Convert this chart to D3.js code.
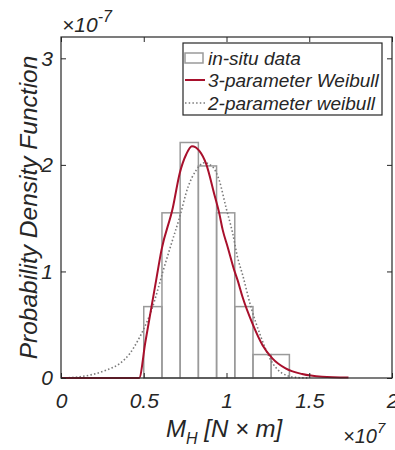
<!DOCTYPE html>
<html>
<head>
<meta charset="utf-8">
<script src="https://d3js.org/d3.v7.min.js"></script>
<style>
  body { margin: 0; background: #fff; }
  text { font-family: "Liberation Sans", Arial, sans-serif; font-style: italic; fill: #262626; }
</style>
</head>
<body>
<div id="chart"></div>
<script>
// histogram of the in-situ data (x in 1e7 N*m, density in 1e-7)
var binEdges = [0.5, 0.61, 0.72, 0.83, 0.94, 1.05, 1.16, 1.27, 1.38];
var binHeights = [0.67, 1.55, 2.21, 1.99, 1.55, 0.67, 0.22, 0.22];

// 3-parameter Weibull fit
var weib3X = [0, 0.472, 0.51, 0.547, 0.575, 0.607, 0.676, 0.717, 0.757, 0.791, 0.837, 0.877, 0.927, 0.957, 0.977, 1.007, 1.047, 1.067, 1.097, 1.157, 1.217, 1.277, 1.357, 1.457, 1.577, 1.737];
var weib3Y = [0, 0, 0.34, 0.67, 0.918, 1.2, 1.60, 1.92, 2.10, 2.175, 2.13, 2.01, 1.72, 1.54, 1.39, 1.23, 1.01, 0.918, 0.76, 0.51, 0.31, 0.184, 0.09, 0.037, 0.012, 0.004];

// 2-parameter weibull fit
var weib2X = [0, 0.116, 0.196, 0.276, 0.356, 0.416, 0.466, 0.506, 0.547, 0.587, 0.616, 0.667, 0.717, 0.767, 0.817, 0.867, 0.917, 0.957, 0.997, 1.037, 1.067, 1.097, 1.147, 1.207, 1.267, 1.337, 1.417, 1.5];
var weib2Y = [0, 0.012, 0.035, 0.075, 0.137, 0.23, 0.356, 0.48, 0.637, 0.84, 1.0, 1.26, 1.51, 1.79, 1.95, 2.02, 1.98, 1.85, 1.60, 1.36, 1.13, 0.97, 0.67, 0.39, 0.17, 0.044, 0.006, 0];

var xTicks = [0, 0.5, 1, 1.5, 2];
var yTicks = [0, 1, 2, 3];
var legendLabels = ["in-situ data", "3-parameter Weibull", "2-parameter weibull"];

var svgWidth = 395;
var svgHeight = 450;
var margin = { top: 37, right: 3, bottom: 72, left: 61 };
var width = svgWidth - margin.left - margin.right;
var height = svgHeight - margin.top - margin.bottom;

var red = "#a8102c";
var barGray = "#9a9a9a";
var axisColor = "#262626";

var svg = d3.select("#chart").append("svg")
  .attr("width", svgWidth)
  .attr("height", svgHeight);

var g = svg.append("g")
  .attr("transform", `translate(${margin.left}, ${margin.top})`);

var x = d3.scaleLinear().domain([0, 2]).range([0, width]);
var y = d3.scaleLinear().domain([0, 3.2]).range([height, 0]);

// histogram bars
g.selectAll("rect.bar")
  .data(binHeights)
  .enter()
  .append("rect")
  .attr("class", "bar")
  .attr("x", (d, i) => x(binEdges[i]))
  .attr("y", d => y(d))
  .attr("width", (d, i) => x(binEdges[i + 1]) - x(binEdges[i]))
  .attr("height", d => y(0) - y(d))
  .attr("fill", "none")
  .attr("stroke", barGray)
  .attr("stroke-width", 1.5);

var line = d3.line()
  .x(d => x(d[0]))
  .y(d => y(d[1]))
  .curve(d3.curveMonotoneX);

// dotted 2-parameter curve
g.append("path")
  .datum(d3.zip(weib2X, weib2Y))
  .attr("d", line)
  .attr("fill", "none")
  .attr("stroke", "#7a7a7a")
  .attr("stroke-width", 1.6)
  .attr("stroke-dasharray", "1.5,2.2");

// red 3-parameter curve
g.append("path")
  .datum(d3.zip(weib3X, weib3Y))
  .attr("d", line)
  .attr("fill", "none")
  .attr("stroke", red)
  .attr("stroke-width", 2);

// axes: ticks point inward on all four sides
var tickLen = 5;
g.append("g")
  .attr("transform", `translate(0, ${height})`)
  .call(d3.axisBottom(x).tickValues(xTicks).tickSizeInner(-tickLen).tickSizeOuter(0).tickPadding(10).tickFormat(d => d))
  .call(ax => ax.select(".domain").remove())
  .call(ax => ax.selectAll("text").style("font-size", "21px").attr("fill", axisColor).attr("dy", "0.95em"));

g.append("g")
  .call(d3.axisTop(x).tickValues(xTicks).tickSizeInner(-tickLen).tickSizeOuter(0).tickFormat(""))
  .call(ax => ax.select(".domain").remove());

g.append("g")
  .call(d3.axisLeft(y).tickValues(yTicks).tickSizeInner(-tickLen).tickSizeOuter(0).tickPadding(8).tickFormat(d => d))
  .call(ax => ax.select(".domain").remove())
  .call(ax => ax.selectAll("text").style("font-size", "21px").attr("fill", axisColor));

g.append("g")
  .attr("transform", `translate(${width}, 0)`)
  .call(d3.axisRight(y).tickValues(yTicks).tickSizeInner(-tickLen).tickSizeOuter(0).tickFormat(""))
  .call(ax => ax.select(".domain").remove());

g.selectAll(".tick line").attr("stroke", axisColor);

// frame
g.append("rect")
  .attr("width", width)
  .attr("height", height)
  .attr("fill", "none")
  .attr("stroke", axisColor)
  .attr("stroke-width", 1.2);

// exponent labels
var topExp = svg.append("text")
  .attr("x", 62)
  .attr("y", 32)
  .style("font-size", "21px");
topExp.append("tspan").text("\u00d710");
topExp.append("tspan").attr("dy", -10).style("font-size", "16px").text("-7");

var botExp = svg.append("text")
  .attr("x", 343)
  .attr("y", 443)
  .style("font-size", "20px");
botExp.append("tspan").text("\u00d710");
botExp.append("tspan").attr("dy", -10).style("font-size", "15px").text("7");

// axis titles
svg.append("text")
  .attr("transform", `translate(37, ${margin.top + height / 2}) rotate(-90)`)
  .attr("text-anchor", "middle")
  .style("font-size", "24.5px")
  .text("Probability Density Function");

var xLabel = svg.append("text")
  .attr("x", 166)
  .attr("y", 437)
  .style("font-size", "24px");
xLabel.append("tspan").text("M");
xLabel.append("tspan").attr("dy", 7).style("font-size", "16px").text("H");
xLabel.append("tspan").attr("dy", -7).text(" [N \u00d7 m]");

// legend
var legend = svg.append("g").attr("transform", "translate(183, 43)");
legend.append("rect")
  .attr("width", 199)
  .attr("height", 72)
  .attr("fill", "#fff")
  .attr("stroke", axisColor)
  .attr("stroke-width", 1.2);

var rowY = [15, 37, 60];
legend.append("rect")
  .attr("x", 2).attr("y", rowY[0] - 5)
  .attr("width", 18).attr("height", 10)
  .attr("fill", "#fff")
  .attr("stroke", barGray)
  .attr("stroke-width", 1.5);
legend.append("line")
  .attr("x1", 2).attr("x2", 22)
  .attr("y1", rowY[1]).attr("y2", rowY[1])
  .attr("stroke", red).attr("stroke-width", 2);
legend.append("line")
  .attr("x1", 2).attr("x2", 22)
  .attr("y1", rowY[2]).attr("y2", rowY[2])
  .attr("stroke", "#7a7a7a").attr("stroke-width", 1.6)
  .attr("stroke-dasharray", "1.5,2.2");

legend.selectAll("text.lab")
  .data(legendLabels)
  .enter()
  .append("text")
  .attr("class", "lab")
  .attr("x", 25)
  .attr("y", (d, i) => rowY[i])
  .attr("dy", "0.36em")
  .style("font-size", "19px")
  .text(d => d);
</script>
</body>
</html>
